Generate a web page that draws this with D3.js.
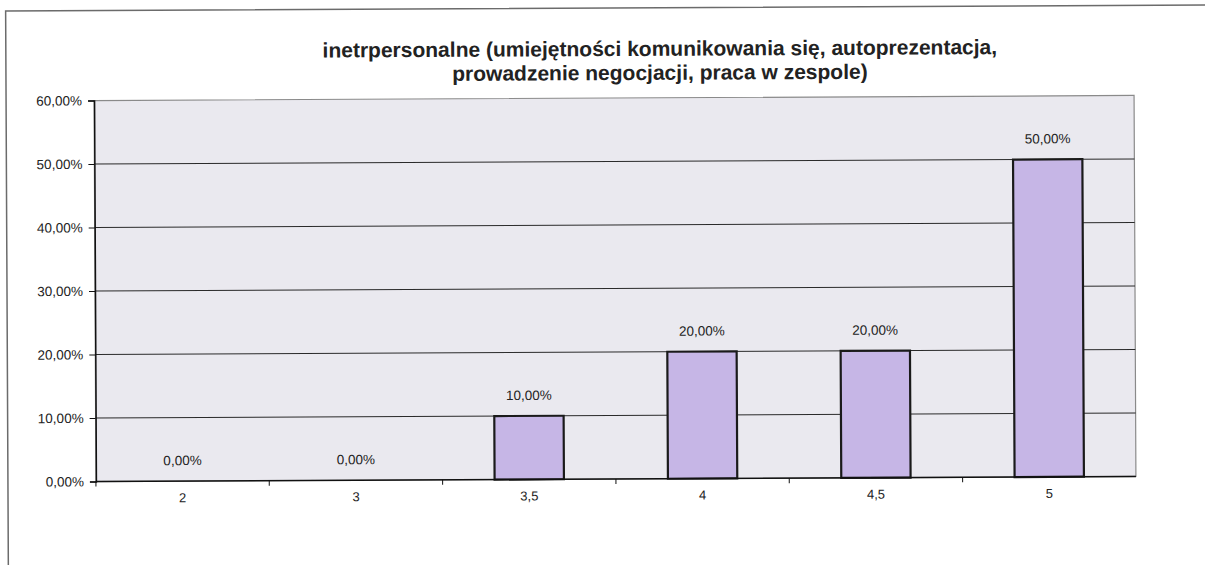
<!DOCTYPE html>
<html>
<head>
<meta charset="utf-8">
<script src="https://cdn.jsdelivr.net/npm/d3@7.9.0/dist/d3.min.js"></script>
<style>
  body { margin: 0; background: #fff; }
  svg { display: block; font-family: Arial, "Liberation Sans", sans-serif; }
</style>
</head>
<body>
<svg id="chart" width="1205" height="565"></svg>
<script>
// data
const categories = ['2', '3', '3,5', '4', '4,5', '5'];
const values = [0, 0, 0.10, 0.20, 0.20, 0.50];
const yTicks = [0, 0.1, 0.2, 0.3, 0.4, 0.5, 0.6];
const titleLines = [
  'inetrpersonalne (umiejętności komunikowania się, autoprezentacja,',
  'prowadzenie negocjacji, praca w zespole)'
];

// the scan is tilted a little, so everything sits in one slightly rotated group
const svg = d3.select('#chart')
  .append('g')
  .attr('transform', 'rotate(-0.28, 615, 289)');

const plot = { left: 95, right: 1135, top: 98, bottom: 479 };

const fmt = (d) => (d * 100).toFixed(2).replace('.', ',') + '%';

// outer frame of the scanned chart
svg.append('path')
  .attr('d', 'M7,575 L7,8 L1215,8')
  .attr('fill', 'none')
  .attr('stroke', '#6b6b6b')
  .attr('stroke-width', 1.5);

// title
svg.append('text')
  .attr('x', 661)
  .attr('y', 56)
  .attr('text-anchor', 'middle')
  .attr('font-size', 21)
  .attr('font-weight', 'bold')
  .attr('fill', '#222')
  .selectAll('tspan')
  .data(titleLines)
  .join('tspan')
  .attr('x', 661)
  .attr('dy', (d, i) => i === 0 ? 0 : 24)
  .text(d => d);

let x = d3.scaleBand()
  .domain(categories)
  .range([plot.left, plot.right])
  .paddingInner(0.6)
  .paddingOuter(0.3);

let y = d3.scaleLinear()
  .domain([0, 0.6])
  .range([plot.bottom, plot.top]);

// plot background
svg.append('rect')
  .attr('x', plot.left)
  .attr('y', plot.top)
  .attr('width', plot.right - plot.left)
  .attr('height', plot.bottom - plot.top)
  .attr('fill', '#eae9ef')
  .attr('stroke', '#8a8a8a')
  .attr('stroke-width', 1.2);

// gridlines
svg.append('g')
  .selectAll('line')
  .data(yTicks.filter(d => d > 0 && d < 0.6))
  .join('line')
  .attr('x1', plot.left)
  .attr('x2', plot.right)
  .attr('y1', d => y(d))
  .attr('y2', d => y(d))
  .attr('stroke', '#2a2a2a')
  .attr('stroke-width', 1);

// y axis
let yAxis = d3.axisLeft(y)
  .tickValues(yTicks)
  .tickFormat(fmt)
  .tickSize(6)
  .tickPadding(6);

let gy = svg.append('g')
  .attr('transform', `translate(${plot.left},0)`)
  .call(yAxis);
gy.select('.domain').attr('stroke', '#111').attr('stroke-width', 1.5);
gy.selectAll('.tick line').attr('stroke', '#111');
gy.selectAll('.tick text')
  .attr('font-size', 13.5)
  .attr('font-family', 'Arial, "Liberation Sans", sans-serif')
  .attr('fill', '#222');

// bars
svg.append('g')
  .selectAll('rect')
  .data(values)
  .join('rect')
  .attr('x', (d, i) => x(categories[i]))
  .attr('y', d => y(d))
  .attr('width', x.bandwidth())
  .attr('height', d => y(0) - y(d))
  .attr('fill', '#c6b6e6')
  .attr('stroke', '#1a1a1a')
  .attr('stroke-width', 2.2);

// value labels
svg.append('g')
  .selectAll('text')
  .data(values)
  .join('text')
  .attr('x', (d, i) => x(categories[i]) + x.bandwidth() / 2)
  .attr('y', d => y(d) - 16)
  .attr('text-anchor', 'middle')
  .attr('font-size', 13.5)
  .attr('fill', '#222')
  .text(d => fmt(d));

// x axis: labels at category centres, ticks at category boundaries
let step = x.step();
let gx = svg.append('g').attr('transform', `translate(0,${plot.bottom})`);
gx.append('line')
  .attr('x1', plot.left)
  .attr('x2', plot.right)
  .attr('stroke', '#111')
  .attr('stroke-width', 1.5);
gx.selectAll('.bound')
  .data(d3.range(categories.length))
  .join('line')
  .attr('class', 'bound')
  .attr('x1', i => plot.left + i * step)
  .attr('x2', i => plot.left + i * step)
  .attr('y1', 0)
  .attr('y2', 5)
  .attr('stroke', '#111');
gx.selectAll('text')
  .data(categories)
  .join('text')
  .attr('x', d => x(d) + x.bandwidth() / 2)
  .attr('y', 21)
  .attr('text-anchor', 'middle')
  .attr('font-size', 13)
  .attr('fill', '#222')
  .text(d => d);
</script>
</body>
</html>
